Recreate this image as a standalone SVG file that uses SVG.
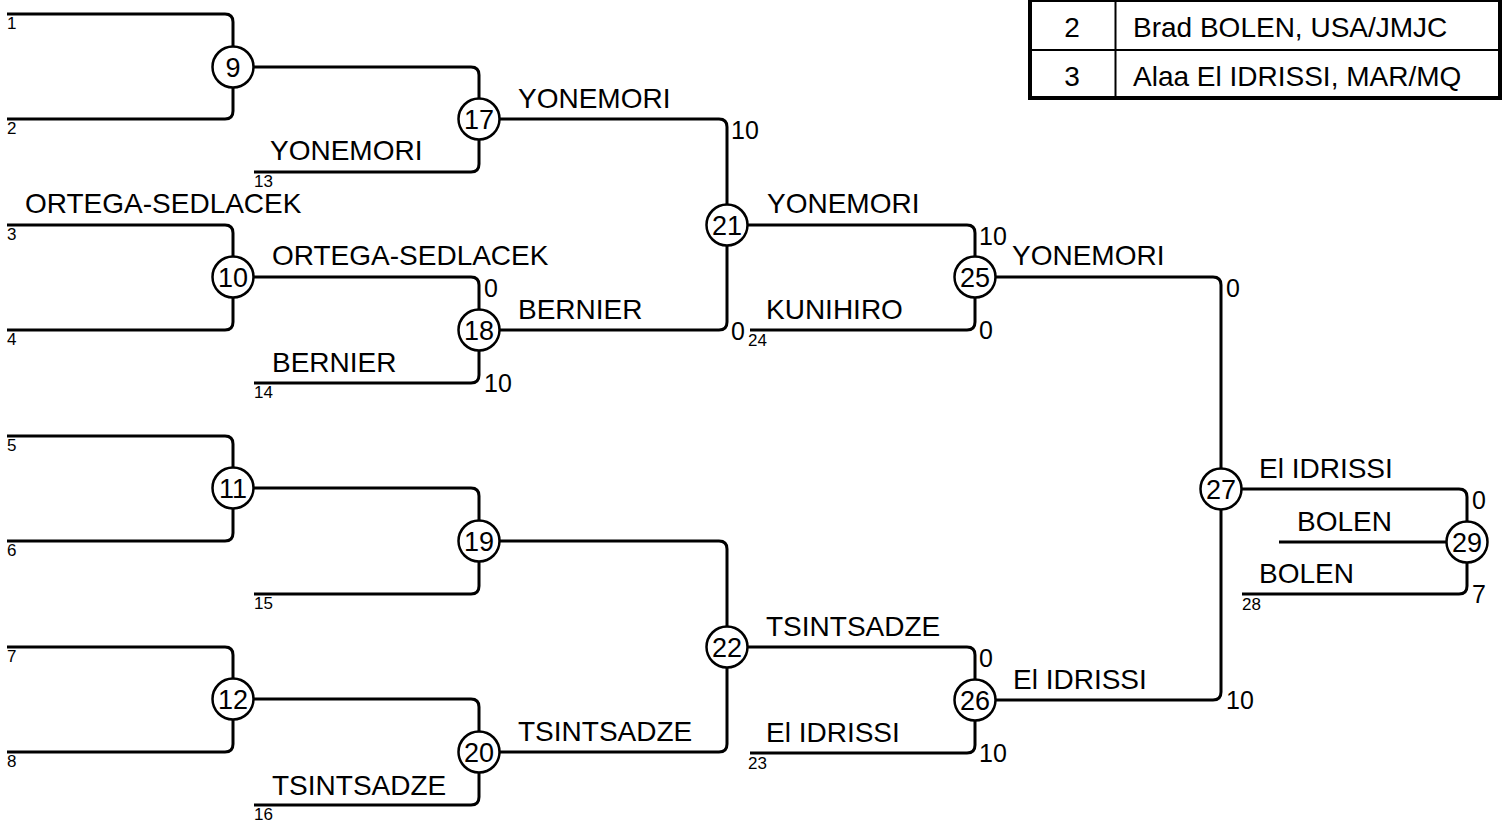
<svg xmlns="http://www.w3.org/2000/svg" width="1502" height="821" viewBox="0 0 1502 821">
<style>
text{font-family:"Liberation Sans",Arial,sans-serif;fill:#000}
.c path{fill:none;stroke:#000;stroke-width:3}
.n circle{fill:#fff;stroke:#000;stroke-width:2.5}
.n text{font-size:27px;text-anchor:middle}
.nm{font-size:28px}
.sc{font-size:25px}
.sl{font-size:17px}
.tb{font-size:28px}
</style>
<rect width="1502" height="821" fill="#fff"/>
<g id="table">
<path d="M1115.5,-50 V98 M1030,50 H1502 M1030,1 H1502" stroke="#000" stroke-width="2" fill="none"/>
<path d="M1030,-50 V98 H1500 V-50" stroke="#000" stroke-width="4" fill="none"/>
<text class="tb" x="1072" y="37" text-anchor="middle">2</text>
<text class="tb" x="1133" y="37">Brad BOLEN, USA/JMJC</text>
<text class="tb" x="1072" y="86" text-anchor="middle">3</text>
<text class="tb" x="1133" y="86">Alaa El IDRISSI, MAR/MQ</text>
</g>
<g id="connectors" class="c">
<path d="M7,14 H225 Q233,14 233,22 V46.5 M7,119 H225 Q233,119 233,111 V87.5"/>
<path d="M7,225 H225 Q233,225 233,233 V256.5 M7,330 H225 Q233,330 233,322 V297.5"/>
<path d="M7,436 H225 Q233,436 233,444 V467.5 M7,541 H225 Q233,541 233,533 V508.5"/>
<path d="M7,647 H225 Q233,647 233,655 V678.5 M7,752 H225 Q233,752 233,744 V719.5"/>
<path d="M253.5,67 H471 Q479,67 479,75 V98.5 M254,172 H471 Q479,172 479,164 V139.5"/>
<path d="M253.5,277 H471 Q479,277 479,285 V309.5 M254,383 H471 Q479,383 479,375 V350.5"/>
<path d="M253.5,488 H471 Q479,488 479,496 V520.5 M254,594 H471 Q479,594 479,586 V561.5"/>
<path d="M253.5,699 H471 Q479,699 479,707 V731.5 M254,805 H471 Q479,805 479,797 V772.5"/>
<path d="M499.5,119 H719 Q727,119 727,127 V204.5 M499.5,330 H719 Q727,330 727,322 V245.5"/>
<path d="M499.5,541 H719 Q727,541 727,549 V626.5 M499.5,752 H719 Q727,752 727,744 V667.5"/>
<path d="M747.5,225 H967 Q975,225 975,233 V256.5 M750,330 H967 Q975,330 975,322 V297.5"/>
<path d="M747.5,647 H967 Q975,647 975,655 V679.5 M750,753 H967 Q975,753 975,745 V720.5"/>
<path d="M995.5,277 H1213 Q1221,277 1221,285 V468.5 M995.5,700 H1213 Q1221,700 1221,692 V509.5"/>
<path d="M1241.5,489 H1459 Q1467,489 1467,497 V521.5 M1242,594 H1459 Q1467,594 1467,586 V562.5 M1279,542 H1446.5"/>
</g>
<g id="n9" class="n"><circle cx="233" cy="67" r="20.5"/><text x="233" y="76.5">9</text></g>
<g id="n10" class="n"><circle cx="233" cy="277" r="20.5"/><text x="233" y="286.5">10</text></g>
<g id="n11" class="n"><circle cx="233" cy="488" r="20.5"/><text x="233" y="497.5">11</text></g>
<g id="n12" class="n"><circle cx="233" cy="699" r="20.5"/><text x="233" y="708.5">12</text></g>
<g id="n17" class="n"><circle cx="479" cy="119" r="20.5"/><text x="479" y="128.5">17</text></g>
<g id="n18" class="n"><circle cx="479" cy="330" r="20.5"/><text x="479" y="339.5">18</text></g>
<g id="n19" class="n"><circle cx="479" cy="541" r="20.5"/><text x="479" y="550.5">19</text></g>
<g id="n20" class="n"><circle cx="479" cy="752" r="20.5"/><text x="479" y="761.5">20</text></g>
<g id="n21" class="n"><circle cx="727" cy="225" r="20.5"/><text x="727" y="234.5">21</text></g>
<g id="n22" class="n"><circle cx="727" cy="647" r="20.5"/><text x="727" y="656.5">22</text></g>
<g id="n25" class="n"><circle cx="975" cy="277" r="20.5"/><text x="975" y="286.5">25</text></g>
<g id="n26" class="n"><circle cx="975" cy="700" r="20.5"/><text x="975" y="709.5">26</text></g>
<g id="n27" class="n"><circle cx="1221" cy="489" r="20.5"/><text x="1221" y="498.5">27</text></g>
<g id="n29" class="n"><circle cx="1467" cy="542" r="20.5"/><text x="1467" y="551.5">29</text></g>
<g id="names" class="nm">
<text x="270" y="160">YONEMORI</text>
<text x="518" y="108">YONEMORI</text>
<text x="25" y="213">ORTEGA-SEDLACEK</text>
<text x="272" y="265">ORTEGA-SEDLACEK</text>
<text x="518" y="319">BERNIER</text>
<text x="272" y="372">BERNIER</text>
<text x="767" y="213">YONEMORI</text>
<text x="766" y="319">KUNIHIRO</text>
<text x="1012" y="265">YONEMORI</text>
<text x="1259" y="478">El IDRISSI</text>
<text x="1297" y="531">BOLEN</text>
<text x="1259" y="583">BOLEN</text>
<text x="766" y="636">TSINTSADZE</text>
<text x="766" y="742">El IDRISSI</text>
<text x="1013" y="689">El IDRISSI</text>
<text x="518" y="741">TSINTSADZE</text>
<text x="272" y="795">TSINTSADZE</text>
</g>
<g id="scores" class="sc">
<text x="731" y="139">10</text>
<text x="731" y="340">0</text>
<text x="484" y="297">0</text>
<text x="484" y="392">10</text>
<text x="979" y="245">10</text>
<text x="979" y="339">0</text>
<text x="979" y="667">0</text>
<text x="979" y="762">10</text>
<text x="1226" y="297">0</text>
<text x="1226" y="709">10</text>
<text x="1472" y="509">0</text>
<text x="1472" y="603">7</text>
</g>
<g id="slots" class="sl">
<text x="7" y="29">1</text>
<text x="7" y="134">2</text>
<text x="7" y="240">3</text>
<text x="7" y="345">4</text>
<text x="7" y="451">5</text>
<text x="7" y="556">6</text>
<text x="7" y="662">7</text>
<text x="7" y="767">8</text>
<text x="254" y="187">13</text>
<text x="254" y="398">14</text>
<text x="254" y="609">15</text>
<text x="254" y="820">16</text>
<text x="748" y="346">24</text>
<text x="748" y="769">23</text>
<text x="1242" y="610">28</text>
</g>
</svg>
